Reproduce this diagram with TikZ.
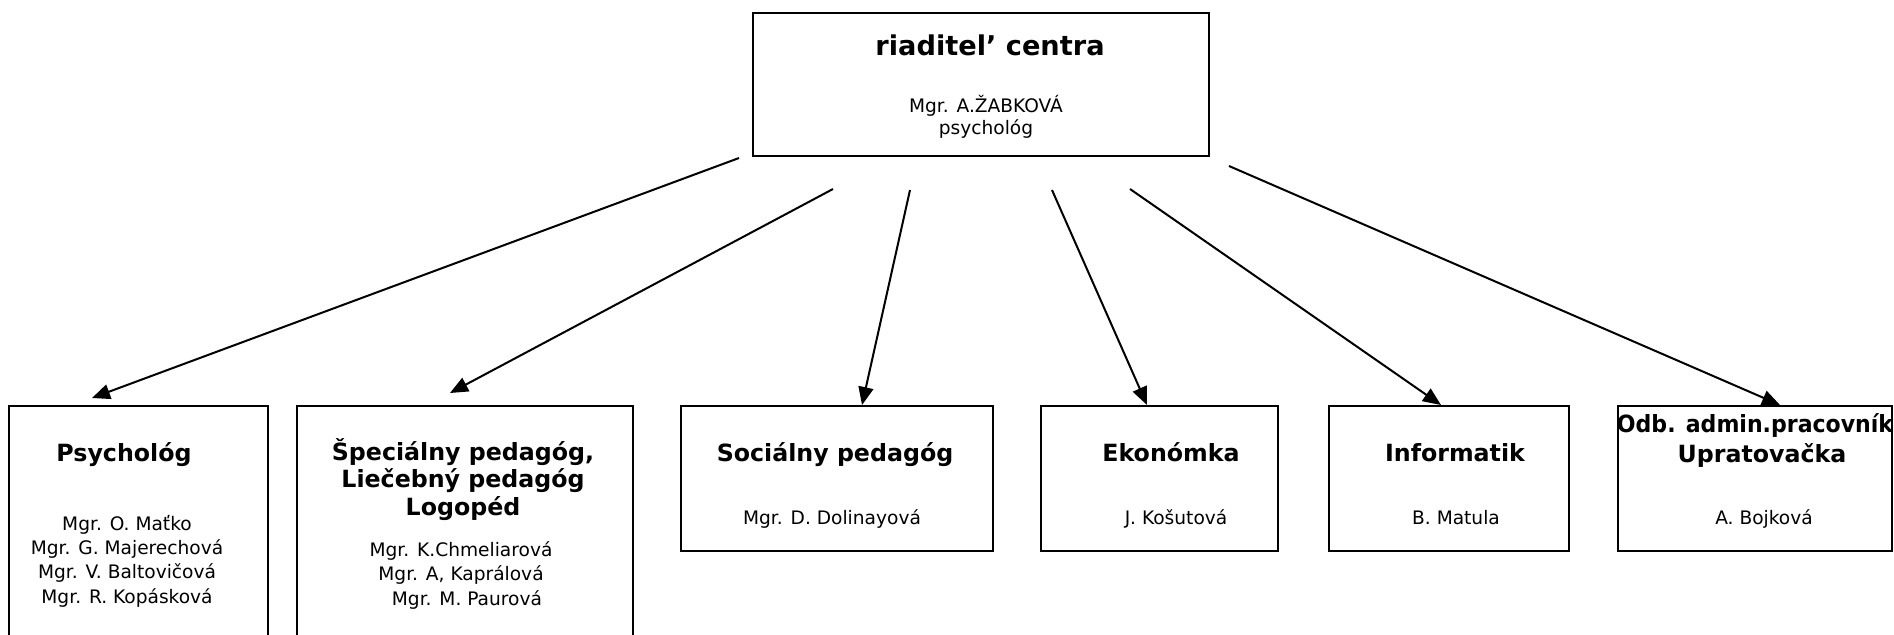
\documentclass[tikz,border=0pt]{standalone}
\usepackage{fontspec}
\usepackage{graphicx}
\setmainfont{DejaVu Sans}
\usetikzlibrary{arrows.meta,fit}
\tikzset{
  box/.style={draw,line width=1pt,inner sep=0pt},
  title/.style={font=\bfseries\fontsize{13.6}{16}\selectfont,anchor=base},
  head/.style={font=\bfseries\fontsize{11.85}{13.75}\selectfont,align=center,anchor=base},
  names/.style={font=\fontsize{9.3}{12.15}\selectfont,align=center,anchor=base},
  arr/.style={-{Triangle[length=9pt,width=7.5pt]},line width=1pt}
}
\begin{document}
\begin{tikzpicture}[x=0.5pt,y=-0.5pt]
\useasboundingbox (0,0) rectangle (1894,634);
% boxes
\node[box,fit={(753,13) (1209,156)}] (dir) {};
\node[box,fit={(9,406) (268,660)}] (psy) {};
\node[box,fit={(297,406) (633,660)}] (spec) {};
\node[box,fit={(681,406) (993,551)}] (soc) {};
\node[box,fit={(1041,406) (1278,551)}] (eko) {};
\node[box,fit={(1329,406) (1569,551)}] (inf) {};
\node[box,fit={(1618,406) (1892,551)}] (odb) {};
% texts (multi-line nodes sit on their last line)
\node[title] (dirhead) at (990,55) {riaditel’ centra};
\node[names,font=\fontsize{9.3}{11}\selectfont] (dirname) at (986,134) {Mgr. A.ŽABKOVÁ\\psychológ};
\node[head] (psyhead) at (124,461) {Psychológ};
\node[names] (psynames) at (127,603) {Mgr. O. Maťko\\Mgr. G. Majerechová\\Mgr. V. Baltovičová\\Mgr. R. Kopásková};
\node[head] (spechead) at (463,515) {Špeciálny pedagóg,\\Liečebný pedagóg\\Logopéd};
\node[names] (specnames) at (461,605) {Mgr. K.Chmeliarová\\Mgr. A, Kaprálová\\\ \ Mgr. M. Paurová};
\node[head] (sochead) at (835,461) {Sociálny pedagóg};
\node[names] (socname) at (832,524) {Mgr. D. Dolinayová};
\node[head] (ekohead) at (1171,461) {Ekonómka};
\node[names] (ekoname) at (1176,524) {J. Košutová};
\node[head] (infhead) at (1455,461) {Informatik};
\node[names] (infname) at (1456,524) {B. Matula};
\node[head] (odbhead) at (1755,432) {\scalebox{0.93}[1]{Odb. admin.pracovník}};
\node[head] (odbhead2) at (1762,462) {Upratovačka};
\node[names] (odbname) at (1764,524) {A. Bojková};
% connectors
\coordinate (s1) at (739,158); \coordinate (e1) at (92,398);
\coordinate (s2) at (833,189); \coordinate (e2) at (450,393);
\coordinate (s3) at (910,190); \coordinate (e3) at (862,405);
\coordinate (s4) at (1052,190); \coordinate (e4) at (1147,405);
\coordinate (s5) at (1130,189); \coordinate (e5) at (1441,405);
\coordinate (s6) at (1229,166); \coordinate (e6) at (1780,405);
\foreach \i in {1,...,6}
  \draw[arr] (s\i) -- (e\i);
\end{tikzpicture}
\end{document}
